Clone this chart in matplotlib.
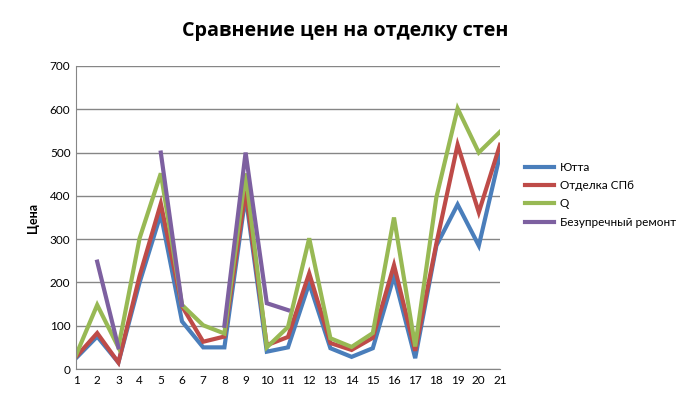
import numpy as np
import matplotlib.pyplot as plt

nan = np.nan
x = list(range(1, 22))
jutta = [25, 75, 15, 200, 358, 110, 50, 50, 400, 40, 50, 198, 48, 28, 48, 215, 25, 285, 380, 285, 495]
otdelka = [28, 83, 15, 215, 382, 145, 63, 75, 412, 55, 74, 221, 60, 44, 72, 240, 42, 290, 518, 362, 518]
q = [32, 148, 50, 302, 452, 148, 101, 82, 452, 50, 97, 302, 71, 51, 83, 350, 52, 397, 602, 500, 548]
bezupr = [nan, 248, 50, nan, 500, 148, nan, 100, 500, 152, 136,
          nan, nan, nan, nan, nan, nan, nan, nan, nan, nan]

names = ['Ютта', 'Отделка СПб', 'Q', 'Безупречный ремонт']
colors = ['#4a7ebb', '#be4b48', '#98b954', '#7d60a0']

plt.rcParams['font.family'] = ['Lato', 'DejaVu Sans']

fig = plt.figure(figsize=(6.9, 3.94), dpi=100)
ax = fig.add_axes([76/690, 25/394, 424/690, 303/394])

for ys, name, c in zip([jutta, otdelka, q, bezupr], names, colors):
    ax.plot(x, ys, color=c, linewidth=3, label=name, solid_joinstyle='miter')

ax.set_xlim(1, 21)
ax.set_ylim(0, 700)
ax.set_xticks(x)
ax.set_yticks(np.arange(0, 701, 100))
ax.tick_params(length=0, labelsize=8.5, pad=4)
ax.grid(True, axis='y', color='#868686', linewidth=1)
ax.set_axisbelow(True)
for s in ['top', 'right']:
    ax.spines[s].set_visible(False)
for s in ['left', 'bottom']:
    ax.spines[s].set_color('#868686')

ax.set_ylabel('Цена', fontsize=9, fontweight='bold', labelpad=8)
fig.text(345/690, 1 - 31/394, 'Сравнение цен на отделку стен', ha='center', va='center',
         fontsize=14.2, fontweight='bold', family=['Open Sans', 'DejaVu Sans'])

ax.legend(loc='center left', bbox_to_anchor=(1.035, 0.575), frameon=False, fontsize=8.5,
          handlelength=2.4, handletextpad=0.5, labelspacing=0.62)

fig.savefig('out.png', dpi=100)
